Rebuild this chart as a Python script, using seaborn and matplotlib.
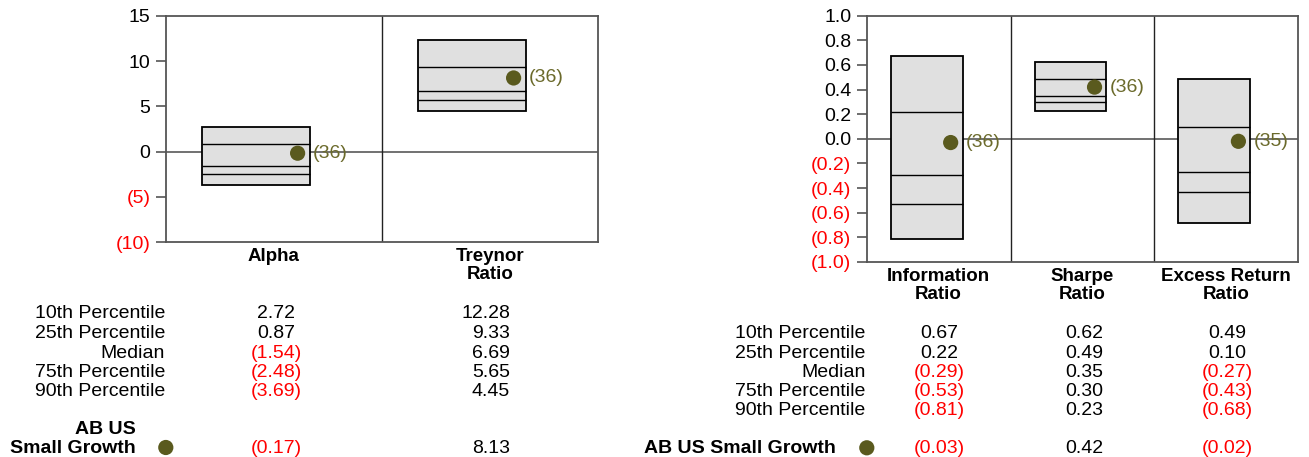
import numpy as np
import pandas as pd
import matplotlib
matplotlib.use("Agg")
import matplotlib.pyplot as plt
import seaborn as sns

sns.set_theme(style="white", rc={"text.color": "black", "xtick.color": "black",
                                 "ytick.color": "black", "axes.labelcolor": "black"})
plt.rcParams['font.family'] = ['Liberation Sans', 'DejaVu Sans']

# data
row_labels = ["10th Percentile", "25th Percentile", "Median", "75th Percentile", "90th Percentile"]

left_metrics = ["Alpha", "Treynor\nRatio"]
left_p10 = [2.72, 12.28]
left_p25 = [0.87, 9.33]
left_p50 = [-1.54, 6.69]
left_p75 = [-2.48, 5.65]
left_p90 = [-3.69, 4.45]
left_fund = [-0.17, 8.13]
left_rank = [36, 36]
left_ticks = [-10, -5, 0, 5, 10, 15]

right_metrics = ["Information\nRatio", "Sharpe\nRatio", "Excess Return\nRatio"]
right_p10 = [0.67, 0.62, 0.49]
right_p25 = [0.22, 0.49, 0.10]
right_p50 = [-0.29, 0.35, -0.27]
right_p75 = [-0.53, 0.30, -0.43]
right_p90 = [-0.81, 0.23, -0.68]
right_fund = [-0.03, 0.42, -0.02]
right_rank = [36, 36, 35]
right_ticks = [-1.0, -0.8, -0.6, -0.4, -0.2, 0.0, 0.2, 0.4, 0.6, 0.8, 1.0]

DOT = "#5a5a1e"
DOT_TXT = "#6b6a2b"
BOX = "#e0e0e0"
RED = "#ff0000"

W, H = 1309, 457
fig = plt.figure(figsize=(W / 100, H / 100), dpi=100)

# overlay in pixel coordinates for the value tables
ov = fig.add_axes([0, 0, 1, 1])

ax_l = fig.add_axes([165.7 / W, 1 - 242.3 / H, 432 / W, 226.6 / H])
ax_r = fig.add_axes([866.7 / W, 1 - 262 / H, 431.6 / W, 246.3 / H])


def tick_fmt_int(t):
    return f"({abs(t):g})" if t < 0 else f"{t:g}"


def tick_fmt_dec(t):
    return f"({abs(t):.1f})" if t < 0 else f"{abs(t):.1f}"


def val_fmt(v):
    return f"({abs(v):.2f})" if v < 0 else f"{v:.2f}"


def draw_panel(ax, metrics, pcts, fund, rank, ticks, fmt, dot_shift):
    x = np.arange(len(metrics))
    box_x = x - 1 / 12
    top, bot = np.array(pcts[0]), np.array(pcts[4])
    ax.bar(box_x, top - bot, bottom=bot, width=0.5, color=BOX,
           edgecolor="black", linewidth=1.3, zorder=3)
    for p in pcts[1:4]:
        ax.hlines(p, box_x - 0.25, box_x + 0.25, color="black", lw=1, zorder=4)
    df = pd.DataFrame({"x": box_x + 0.25 - dot_shift, "y": fund})
    sns.scatterplot(data=df, x="x", y="y", ax=ax, s=120, color=DOT,
                    edgecolor="none", zorder=5, legend=False)
    for xi, yi, r in zip(df["x"], df["y"], rank):
        ax.annotate(f"({r})", (xi, yi), xytext=(11, 0), textcoords="offset points",
                    va="center", ha="left", fontsize=14, color=DOT_TXT, zorder=6)
    ax.axhline(0, color="#666666", lw=1.3, zorder=2)
    for d in x[:-1] + 0.5:
        ax.axvline(d, color="#222222", lw=1, zorder=2)
    ax.set_xlim(-0.5, len(metrics) - 0.5)
    ax.set_ylim(ticks[0], ticks[-1])
    ax.set_xticks(x)
    ax.set_xticklabels(metrics, fontweight="bold", fontsize=13.5, linespacing=1.08)
    ax.set_yticks(ticks)
    ax.set_yticklabels([fmt(t) for t in ticks], fontsize=14)
    for lab, t in zip(ax.get_yticklabels(), ticks):
        if t < 0:
            lab.set_color(RED)
    ax.tick_params(axis="x", length=0, pad=4)
    ax.tick_params(axis="y", left=True, length=7, width=1.2, color="#555555", pad=4)
    for s in ax.spines.values():
        s.set_color("#555555")
        s.set_linewidth(1.3)
    ax.set_xlabel("")
    ax.set_ylabel("")


draw_panel(ax_l, left_metrics, [left_p10, left_p25, left_p50, left_p75, left_p90],
           left_fund, left_rank, left_ticks, tick_fmt_int, 0.056)
draw_panel(ax_r, right_metrics, [right_p10, right_p25, right_p50, right_p75, right_p90],
           right_fund, right_rank, right_ticks, tick_fmt_dec, 0.083)

CAP = 6.0  # half cap height in px, to place baselines from row centres
FS = 14


def draw_table(label_x, row_y, col_r, cols, fund_vals, fund_y):
    for lab, y in zip(row_labels, row_y):
        ov.text(label_x, y + CAP, lab, ha="right", va="baseline", fontsize=FS)
    for xr, col, fv in zip(col_r, cols, fund_vals):
        for v, y in zip(list(col) + [fv], list(row_y) + [fund_y]):
            ov.text(xr if v < 0 else xr - 6.7, y + CAP, val_fmt(v), ha="right",
                    va="baseline", fontsize=FS, color=RED if v < 0 else "black")


draw_table(165, [312.3, 332.3, 351.7, 371, 390], [301.7, 516.7],
           list(zip(left_p10, left_p25, left_p50, left_p75, left_p90)), left_fund, 447.0)
draw_table(865.7, [332.3, 351.7, 371, 390, 409], [965, 1110, 1253.3],
           list(zip(right_p10, right_p25, right_p50, right_p75, right_p90)), right_fund, 447.0)

ov.text(136, 428.0 + CAP, "AB US", ha="right", va="baseline", fontsize=FS, fontweight="bold")
ov.text(136, 447.0 + CAP, "Small Growth", ha="right", va="baseline", fontsize=FS,
        fontweight="bold")
ov.text(836, 447.0 + CAP, "AB US Small Growth", ha="right", va="baseline", fontsize=FS,
        fontweight="bold")
legend_dots = pd.DataFrame({"x": [165.8, 866.8], "y": [447.5, 447.8]})
sns.scatterplot(data=legend_dots, x="x", y="y", ax=ov, s=120, color=DOT,
                edgecolor="none", legend=False)
ov.set_xlim(0, W)
ov.set_ylim(H, 0)
ov.axis("off")

fig.savefig("out.png", dpi=100)
